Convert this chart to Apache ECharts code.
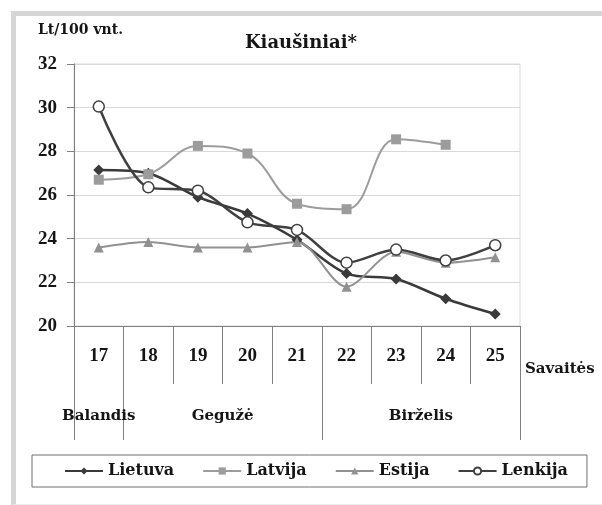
<!DOCTYPE html>
<html>
<head>
<meta charset="utf-8">
<script src="https://cdn.jsdelivr.net/npm/echarts@6/dist/echarts.min.js"></script>
<style>
    body{margin:0;background:#fff;}
    #frame{position:absolute;left:11px;top:11px;width:600px;height:488px;border-top:5px solid #d6d6d6;border-left:5px solid #d6d6d6;border-bottom:1px solid #ececec;}
    #chart{position:absolute;left:0;top:0;width:602px;height:505px;}
</style>
</head>
<body>
<div id="frame"></div>
<div id="chart"></div>
<script>
// savaitės
var weeks = ['17','18','19','20','21','22','23','24','25'];
// mėnesiai ir kiek savaičių kiekvienam
var months = ['Balandis','Gegužė','Birželis'];
var monthSpans = [1,4,4];
var yTicks = [20,22,24,26,28,30,32];

var lietuva = [27.15, 27.0, 25.9, 25.15, 23.95, 22.4, 22.15, 21.25, 20.55];
var latvija = [26.7, 26.95, 28.25, 27.9, 25.6, 25.35, 28.55, 28.3, null];
var estija  = [23.6, 23.85, 23.6, 23.6, 23.85, 21.8, 23.4, 22.9, 23.15];
var lenkija = [30.05, 26.35, 26.2, 24.75, 24.4, 22.9, 23.5, 23.0, 23.7];

var serif = 'DejaVu Serif';
var numFont = 'Liberation Serif';
var txt = '#151515';

// mėnesių ribos ir vidurio taškai
var monthEdges = [0];
var monthCenters = [];
var acc = 0;
for(var i=0;i<monthSpans.length;i++){
    monthCenters.push(acc + monthSpans[i]/2);
    acc += monthSpans[i];
    monthEdges.push(acc);
}

var myChart = echarts.init(document.getElementById('chart'));
var option = {
    animation:false,
    title:{
        text:'Kiaušiniai*',
        left:'center',
        top:29,
        textStyle:{fontFamily:serif,fontWeight:'bold',fontSize:18,color:txt}
    },
    grid:{
        left:74,right:82,top:64,bottom:179,
        show:true,borderColor:'#d9d9d9',borderWidth:1
    },
    legend:{
        left:32,
        top:455,
        padding:[8,19,8,32],
        borderColor:'#6e6e6e',
        borderWidth:1,
        itemWidth:38,
        itemHeight:9,
        itemGap:28,
        textStyle:{fontFamily:serif,fontWeight:'bold',fontSize:16,color:txt},
        data:['Lietuva','Latvija','Estija','Lenkija']
    },
    xAxis:[
        {
            type:'category',
            data:weeks,
            boundaryGap:true,
            name:'Savaitės',
            nameLocation:'end',
            nameGap:5,
            nameTextStyle:{fontFamily:serif,fontWeight:'bold',fontSize:15,color:txt,verticalAlign:'top',padding:[36,0,0,0]},
            axisLine:{lineStyle:{color:'#808080',width:1}},
            axisTick:{show:true,interval:0,length:58,lineStyle:{color:'#808080'}},
            axisLabel:{interval:0,margin:21,fontFamily:numFont,fontWeight:'bold',fontSize:19,color:txt}
        },
        {
            type:'value',
            position:'bottom',
            min:0,
            max:weeks.length,
            axisLine:{show:false},
            splitLine:{show:false},
            axisTick:{show:true,length:114,customValues:monthEdges,lineStyle:{color:'#808080'}},
            axisLabel:{
                customValues:monthCenters,
                margin:83,
                fontFamily:serif,fontWeight:'bold',fontSize:15,color:txt,
                formatter:function(v){
                    var idx = monthCenters.indexOf(v);
                    return idx==-1 ? '' : months[idx];
                }
            }
        }
    ],
    yAxis:{
        type:'value',
        min:yTicks[0],
        max:yTicks[yTicks.length-1],
        interval:2,
        name:'Lt/100 vnt.',
        nameLocation:'end',
        nameGap:27,
        nameTextStyle:{fontFamily:serif,fontWeight:'bold',fontSize:14,color:txt,align:'center',padding:[0,0,0,13]},
        axisLine:{show:true,lineStyle:{color:'#808080'}},
        axisTick:{show:true,length:7,lineStyle:{color:'#808080'}},
        splitLine:{lineStyle:{color:'#d9d9d9'}},
        axisLabel:{margin:17,fontFamily:numFont,fontWeight:'bold',fontSize:19,color:txt}
    },
    series:[
        {
            name:'Lietuva',type:'line',data:lietuva,smooth:0.3,
            symbol:'diamond',symbolSize:11,
            lineStyle:{color:'#3a3a3a',width:2.5},
            itemStyle:{color:'#3a3a3a'}
        },
        {
            name:'Latvija',type:'line',data:latvija,smooth:0.4,
            symbol:'rect',symbolSize:10,
            lineStyle:{color:'#9c9c9c',width:2},
            itemStyle:{color:'#9c9c9c'}
        },
        {
            name:'Estija',type:'line',data:estija,smooth:0.3,
            symbol:'triangle',symbolSize:10,
            lineStyle:{color:'#919191',width:2},
            itemStyle:{color:'#919191'}
        },
        {
            name:'Lenkija',type:'line',data:lenkija,smooth:0.3,
            symbol:'circle',symbolSize:11,
            lineStyle:{color:'#404040',width:2.5},
            itemStyle:{color:'#fff',borderColor:'#404040',borderWidth:1.5}
        }
    ]
};
myChart.setOption(option);
</script>
</body>
</html>
